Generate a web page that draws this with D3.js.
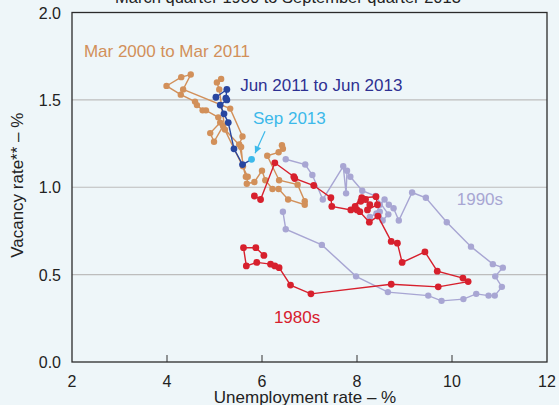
<!DOCTYPE html>
<html><head><meta charset="utf-8">
<script src="https://cdn.jsdelivr.net/npm/d3@7"></script>
<style>
html,body{margin:0;padding:0;background:#eef6f9;}
svg{display:block;font-family:Arial,"Liberation Sans",sans-serif;}
</style></head>
<body><svg id="c" width="559" height="405"></svg>
<script>
// Unemployment rate (%) and vacancy rate (%) per quarter
const series1980s = [[6.04,0.61],[5.87,0.654],[5.61,0.654],[5.67,0.55],[5.89,0.57],[6.18,0.56],[6.27,0.55],[6.36,0.54],[6.60,0.44],[7.03,0.39],[8.72,0.445],[9.71,0.43],[10.34,0.46],[10.23,0.48],[9.69,0.52],[9.43,0.63],[8.95,0.57],[8.85,0.68],[8.72,0.69],[8.44,0.835],[8.26,0.80],[8.06,0.86],[8.00,0.87],[7.96,0.89],[8.08,0.92],[8.18,0.93],[8.27,0.90],[8.22,0.87],[8.43,0.90],[8.40,0.946],[8.10,0.94],[7.87,0.87],[7.47,0.89],[7.45,0.94],[7.09,1.01],[6.69,1.05],[6.67,1.06],[6.27,1.14],[5.97,0.93],[5.84,0.95]];
const series1990s = [[6.44,0.86],[6.50,0.76],[7.26,0.67],[7.98,0.49],[8.65,0.40],[9.50,0.38],[9.78,0.35],[10.24,0.36],[10.51,0.39],[10.77,0.38],[10.90,0.38],[11.05,0.43],[10.91,0.49],[11.07,0.54],[10.86,0.56],[10.40,0.66],[9.89,0.80],[9.45,0.94],[9.16,0.97],[8.88,0.81],[8.77,0.88],[8.67,0.90],[8.58,0.93],[8.48,0.90],[8.41,0.85],[8.27,0.83],[8.48,0.86],[8.54,0.81],[8.66,0.845],[8.39,0.95],[8.11,0.98],[7.86,1.06],[7.79,1.095],[7.77,0.965],[7.71,1.12],[7.28,0.93],[7.06,1.07],[6.91,1.13],[6.50,1.16]];
const series2000s = [[6.42,1.24],[6.44,1.22],[6.35,1.20],[6.11,1.18],[6.36,1.04],[6.75,1.015],[6.90,0.92],[6.90,0.90],[6.55,0.93],[6.35,0.99],[6.22,0.99],[6.07,1.04],[6.00,1.095],[5.84,1.03],[5.68,1.02],[5.70,1.06],[5.18,1.35],[4.99,1.26],[4.91,1.31],[5.12,1.37],[5.08,1.40],[4.82,1.44],[4.75,1.44],[4.63,1.47],[4.59,1.49],[4.29,1.53],[3.99,1.58],[4.30,1.63],[4.50,1.645],[4.34,1.56],[5.33,1.45],[5.59,1.29],[5.52,1.245],[5.66,1.06],[5.60,1.12],[5.56,1.23],[5.22,1.33],[5.10,1.56],[5.05,1.60],[5.14,1.62]];
const series2011 = [[5.03,1.515],[5.26,1.56],[5.24,1.51],[5.26,1.50],[5.12,1.47],[5.20,1.42],[5.29,1.37],[5.41,1.22],[5.59,1.13]];
const seriesSep2013 = [[5.78,1.16]];
const xTicks = [2,4,6,8,10,12];
const yTicks = [0,0.5,1.0,1.5,2.0];
const labels = {
  s80:"1980s", s90:"1990s", s00:"Mar 2000 to Mar 2011", s11:"Jun 2011 to Jun 2013", s13:"Sep 2013",
  title:"March quarter 1980 to September quarter 2013",
  xTitle:"Unemployment rate – %", yTitle:"Vacancy rate** – %"
};

const svg = d3.select("#c");
const L=72, R=547, T=12.5, B=362;
const x = d3.scaleLinear().domain([2,12]).range([L,R]);
const y = d3.scaleLinear().domain([0,2]).range([B,T]);

svg.append("rect").attr("width",559).attr("height",405).attr("fill","#eef6f9");

// title (partially cut off at the top, as in the source)
svg.append("text").attr("x",288).attr("y",3).attr("text-anchor","middle")
  .attr("font-size",16.5).attr("fill","#222").text(labels.title);

// gridlines
svg.append("g").selectAll("line").data(yTicks.filter(d=>d>0&&d<2)).join("line")
  .attr("x1",L).attr("x2",R).attr("y1",d=>y(d)).attr("y2",d=>y(d))
  .attr("stroke","#bdbdbd").attr("stroke-width",1.2);

// x ticks (inside)
svg.append("g").selectAll("line").data(xTicks.slice(1,-1)).join("line")
  .attr("x1",d=>x(d)).attr("x2",d=>x(d)).attr("y1",B).attr("y2",B-7)
  .attr("stroke","#333").attr("stroke-width",1);

// frame
svg.append("rect").attr("x",L).attr("y",T).attr("width",R-L).attr("height",B-T)
  .attr("fill","none").attr("stroke","#2b2b2b").attr("stroke-width",1.3);

// tick labels
svg.append("g").selectAll("text").data(xTicks).join("text")
  .attr("x",d=>x(d)).attr("y",B+25).attr("text-anchor","middle")
  .attr("font-size",16).attr("fill","#222").text(d=>d);
svg.append("g").selectAll("text").data(yTicks).join("text")
  .attr("x",L-11).attr("y",d=>y(d)+6).attr("text-anchor","end")
  .attr("font-size",16).attr("fill","#222").text(d=>d.toFixed(1));

svg.append("text").attr("x",305).attr("y",403).attr("text-anchor","middle")
  .attr("font-size",17).attr("fill","#222").text(labels.xTitle);
svg.append("text").attr("transform",`translate(23,${(T+B)/2-2}) rotate(-90)`).attr("text-anchor","middle")
  .attr("font-size",17).attr("fill","#222").text(labels.yTitle);

const line = d3.line().x(d=>x(d[0])).y(d=>y(d[1]));
function drawSeries(data,color,r){
  const g = svg.append("g");
  g.append("path").attr("d",line(data)).attr("fill","none").attr("stroke",color).attr("stroke-width",1.4);
  g.selectAll("circle").data(data).join("circle").attr("cx",d=>x(d[0])).attr("cy",d=>y(d[1])).attr("r",r).attr("fill",color);
}
drawSeries(series1990s,"#a8a6d3",3.2);
drawSeries(series2000s,"#d2905a",3.2);
drawSeries(series1980s,"#d7202d",3.4);
drawSeries(series2011,"#2846a0",3.4);
// connect Jun 2013 to Sep 2013
svg.append("path").attr("d",line([series2011[series2011.length-1],seriesSep2013[0]])).attr("stroke","#2846a0").attr("stroke-width",1.4).attr("fill","none");
drawSeries(seriesSep2013,"#3cb9ea",3.4);

// annotations
svg.append("text").attr("x",x(2.25)).attr("y",y(1.745)).attr("font-size",17).attr("fill","#d2905a").text(labels.s00);
svg.append("text").attr("x",x(5.54)).attr("y",y(1.55)).attr("font-size",17).attr("fill","#2e3192").text(labels.s11);
svg.append("text").attr("x",x(5.81)).attr("y",y(1.36)).attr("font-size",17).attr("fill","#3cb9ea").text(labels.s13);
svg.append("text").attr("x",x(10.1)).attr("y",y(0.90)).attr("font-size",17).attr("fill","#a8a6d3").text(labels.s90);
svg.append("text").attr("x",x(6.25)).attr("y",y(0.223)).attr("font-size",17).attr("fill","#d7202d").text(labels.s80);

// arrow to Sep 2013
const p = seriesSep2013[0];
const ax2 = x(p[0])+3.5, ay2 = y(p[1])-6, ax1 = x(p[0])+13.5, ay1 = y(p[1])-28;
svg.append("line").attr("x1",ax1).attr("y1",ay1).attr("x2",ax2).attr("y2",ay2).attr("stroke","#3cb9ea").attr("stroke-width",1.2);
const ang = Math.atan2(ay2-ay1, ax2-ax1);
const hl=7, hw=3.5;
const bx = ax2 - hl*Math.cos(ang), by = ay2 - hl*Math.sin(ang);
svg.append("path").attr("d",`M${ax2},${ay2}L${bx+hw*Math.sin(ang)},${by-hw*Math.cos(ang)}L${bx-hw*Math.sin(ang)},${by+hw*Math.cos(ang)}Z`).attr("fill","#3cb9ea");
</script></body></html>
